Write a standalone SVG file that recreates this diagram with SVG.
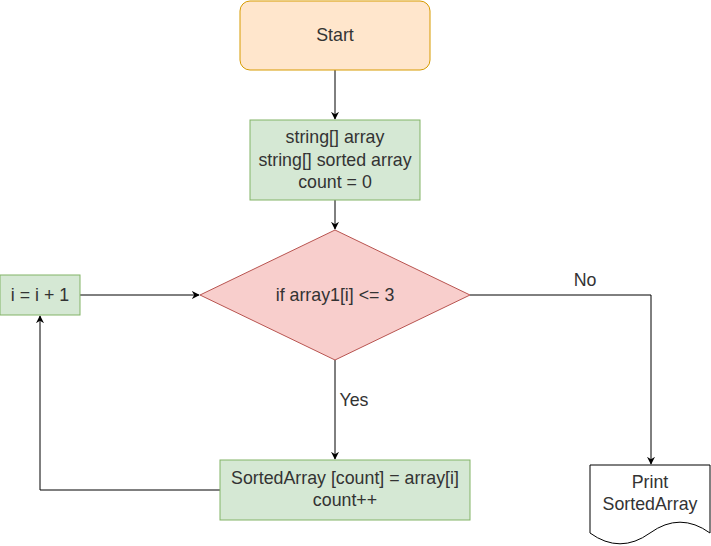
<svg xmlns="http://www.w3.org/2000/svg" width="711" height="546" viewBox="0 0 711 546">
<defs>
<style>
text{font-family:"Liberation Sans",Arial,sans-serif;font-size:17.8px;fill:#333;text-anchor:middle}
.g{fill:#d5e8d4;stroke:#82b366;stroke-width:1}
.e{fill:none;stroke:#000;stroke-width:1}
</style>
<marker id="a" viewBox="0 0 10 10" refX="9" refY="5" markerWidth="8" markerHeight="8" markerUnits="userSpaceOnUse" orient="auto">
<path d="M0,0 L10,5 L0,10 L3,5 Z" fill="#000"/>
</marker>
</defs>
<rect width="711" height="546" fill="#fff"/>
<g id="edges">
<path class="e" d="M335,70 V119" marker-end="url(#a)"/>
<path class="e" d="M335,200 V229" marker-end="url(#a)"/>
<path class="e" d="M80,295 H199" marker-end="url(#a)"/>
<path class="e" d="M335,360 V459" marker-end="url(#a)"/>
<path class="e" d="M470,295 H651 V464" marker-end="url(#a)"/>
<path class="e" d="M220,490 H40 V316" marker-end="url(#a)"/>
<text x="585" y="286">No</text>
<text x="354" y="406">Yes</text>
</g>
<g id="start">
<rect x="240" y="1" width="190" height="69" rx="10" fill="#ffe6cc" stroke="#d79b00"/>
<text x="335" y="41">Start</text>
</g>
<g id="init">
<rect class="g" x="250" y="120" width="170" height="80"/>
<text x="335" y="143">string[] array</text>
<text x="335" y="166">string[] sorted array</text>
<text x="335" y="188">count = 0</text>
</g>
<g id="cond">
<path d="M335,230 L470,295 L335,360 L200,295 Z" fill="#f8cecc" stroke="#b85450"/>
<text x="335" y="301">if array1[i] &lt;= 3</text>
</g>
<g id="inc">
<rect class="g" x="0" y="275" width="80" height="40"/>
<text x="40" y="301">i = i + 1</text>
</g>
<g id="assign">
<rect class="g" x="220" y="460" width="250" height="60"/>
<text x="345" y="484">SortedArray [count] = array[i]</text>
<text x="345" y="506">count++</text>
</g>
<g id="print">
<path d="M590,465 H710 V533 Q680,511.4 650,533 Q620,554.6 590,533 Z" fill="#fff" stroke="#000"/>
<text x="650" y="488">Print</text>
<text x="650" y="510">SortedArray</text>
</g>
</svg>
